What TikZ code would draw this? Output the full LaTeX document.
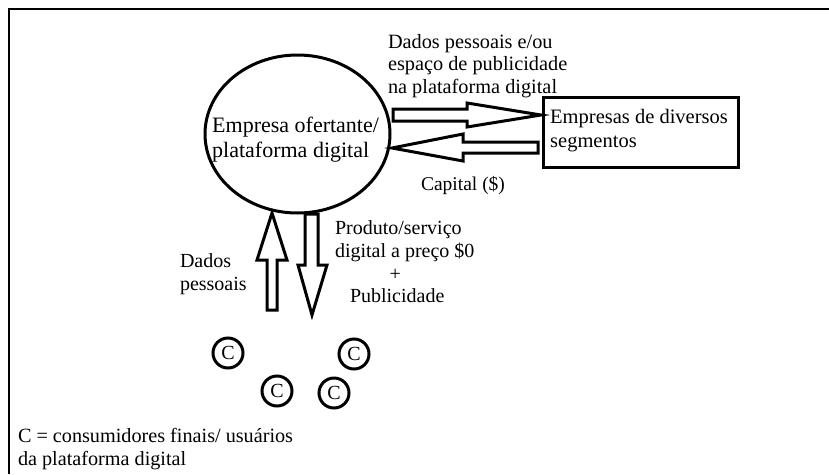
\documentclass[tikz,border=0pt]{standalone}
\usepackage{fontspec}
\setmainfont{Liberation Serif}
\usetikzlibrary{shapes.geometric}
\tikzset{
  lbl/.style={inner sep=0pt, outer sep=0pt, align=left, anchor=north west, font=\fontsize{20}{22.7}\selectfont},
  thick line/.style={line width=3pt, line join=miter},
  blockarrow/.style={draw, line width=3pt, line join=miter, fill=white},
  cons/.style={circle, draw, line width=3pt, minimum size=30pt, inner sep=0pt, font=\fontsize{20}{22}\selectfont},
}
\begin{document}
\begin{tikzpicture}[x=1pt, y=-1pt]
\useasboundingbox (0,0) rectangle (829,474);
% frame
\draw[line width=2pt] (9,474) -- (9,9) -- (829,9);
% main ellipse
\node[ellipse, draw, thick line, minimum width=185pt, minimum height=158pt, inner sep=0pt] (emp) at (297.5,134) {};
\node[inner sep=0pt, align=left, anchor=north west, font=\fontsize{22}{25}\selectfont] (emptext) at (212,116.5) {Empresa ofertante/\\plataforma digital};
% companies box
\draw[thick line] (543,97) rectangle (738,167);
\coordinate (boxnw) at (543,97);
\node[inner sep=0pt, align=left, anchor=north west, font=\fontsize{20.5}{24}\selectfont] (seg) at (550,109) {Empresas de diversos\\segmentos};
% top label
\node[lbl, font=\fontsize{20.3}{22.6}\selectfont] (toplbl) at (388,34) {Dados pessoais e/ou\\espaço de publicidade\\na plataforma digital};
% capital label
\node[inner sep=0pt, anchor=base, font=\fontsize{19.5}{22}\selectfont] (cap) at (463,190) {Capital (\$)};
% horizontal block arrows
\draw[blockarrow] (393,109) -- (467,109) -- (467,103) -- (541,115) -- (467,127) -- (467,121) -- (393,121) -- cycle;
\draw[blockarrow] (392,148) -- (463,134) -- (463,142) -- (538,142) -- (538,153) -- (463,153) -- (463,161) -- cycle;
% vertical block arrows
\draw[blockarrow] (272,213) -- (287,260) -- (277,260) -- (277,310) -- (267,310) -- (267,260) -- (257,260) -- cycle;
\draw[blockarrow] (305,214) -- (318,214) -- (318,265) -- (327,265) -- (312,315) -- (298,265) -- (305,265) -- cycle;
% vertical labels
\node[lbl] (dp) at (180,254) {Dados\\pessoais};
\node[lbl] (prod) at (335,221) {Produto/serviço\\digital a preço \$0\\\hspace*{54.5pt}+\\\hspace*{15pt}Publicidade};
% consumers
\node[cons] (c1) at (228,353) {C};
\node[cons] (c2) at (354,354) {C};
\node[cons] (c3) at (277,391) {C};
\node[cons] (c4) at (334,393) {C};
% legend
\node[lbl, font=\fontsize{20.2}{23}\selectfont] (leg) at (18,428) {C = consumidores finais/ usuários\\da plataforma digital};
\end{tikzpicture}
\end{document}
